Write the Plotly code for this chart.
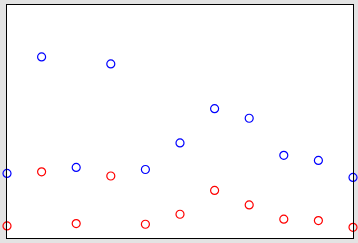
import plotly.graph_objects as go

x_vals = list(range(11))
blue_vals = [2.77, 7.77, 3.03, 7.47, 2.94, 4.08, 5.55, 5.14, 3.55, 3.33, 2.60]
red_vals = [0.52, 2.84, 0.62, 2.66, 0.59, 1.02, 2.04, 1.42, 0.81, 0.75, 0.46]

fig = go.Figure()
fig.add_trace(go.Scatter(x=x_vals, y=blue_vals, mode="markers", cliponaxis=False,
                         marker=dict(symbol="circle-open", size=8, color="#0000ff",
                                     line=dict(width=1.2, color="#0000ff"))))
fig.add_trace(go.Scatter(x=x_vals, y=red_vals, mode="markers", cliponaxis=False,
                         marker=dict(symbol="circle-open", size=8, color="#ff0000",
                                     line=dict(width=1.2, color="#ff0000"))))

fig.update_layout(
    width=358, height=243,
    margin=dict(l=7, r=5, t=5, b=5),
    paper_bgcolor="#e3e3e3", plot_bgcolor="#ffffff",
    showlegend=False,
    xaxis=dict(range=[0, 10], showgrid=False, zeroline=False, showticklabels=False,
               ticks="", showline=True, linecolor="black", linewidth=1, mirror=True),
    yaxis=dict(range=[0, 10], showgrid=False, zeroline=False, showticklabels=False,
               ticks="", showline=True, linecolor="black", linewidth=1, mirror=True),
)
fig.write_html("out.html")
